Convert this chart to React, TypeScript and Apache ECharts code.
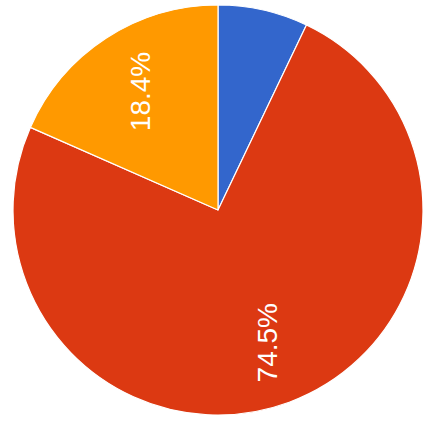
import React, { useEffect, useRef } from "react";
import * as echarts from "echarts";

const categories = ["A", "B", "C"];
const values = [7.1, 74.5, 18.4];
const colors = ["#3366CC", "#DC3912", "#FF9900"];
const labelTexts = ["", "74.5%", "18.4%"];

export default function App() {
  const ref = useRef<HTMLDivElement>(null);
  useEffect(() => {
    if (!ref.current) return;
    const chart = echarts.init(ref.current, null, { renderer: "svg" });
    const data = categories.map((name, i) => ({
      name,
      value: values[i],
      itemStyle: { color: colors[i] },
    }));
    chart.setOption({
      animation: false,
      series: [
        {
          type: "pie",
          center: [218, 210],
          radius: [0, 205],
          startAngle: 90,
          clockwise: true,
          data,
          label: { show: false },
          labelLine: { show: false },
          itemStyle: { borderColor: "#ffffff", borderWidth: 1.2 },
          silent: true,
        },
        {
          type: "pie",
          center: [218, 210],
          radius: [72, 205],
          startAngle: 90,
          clockwise: true,
          data: data.map((d, i) => ({
            ...d,
            itemStyle: { color: "rgba(0,0,0,0)" },
            label: { formatter: labelTexts[i] },
          })),
          label: {
            show: true,
            position: "inside",
            rotate: 90,
            color: "#ffffff",
            fontSize: 28,
            fontFamily: "Liberation Sans, Arial, sans-serif",
          },
          labelLine: { show: false },
          silent: true,
        },
      ],
    });
    return () => chart.dispose();
  }, []);
  return (
    <div
      ref={ref}
      style={{ position: "fixed", left: 0, top: 0, width: 429, height: 432, background: "#ffffff" }}
    />
  );
}
